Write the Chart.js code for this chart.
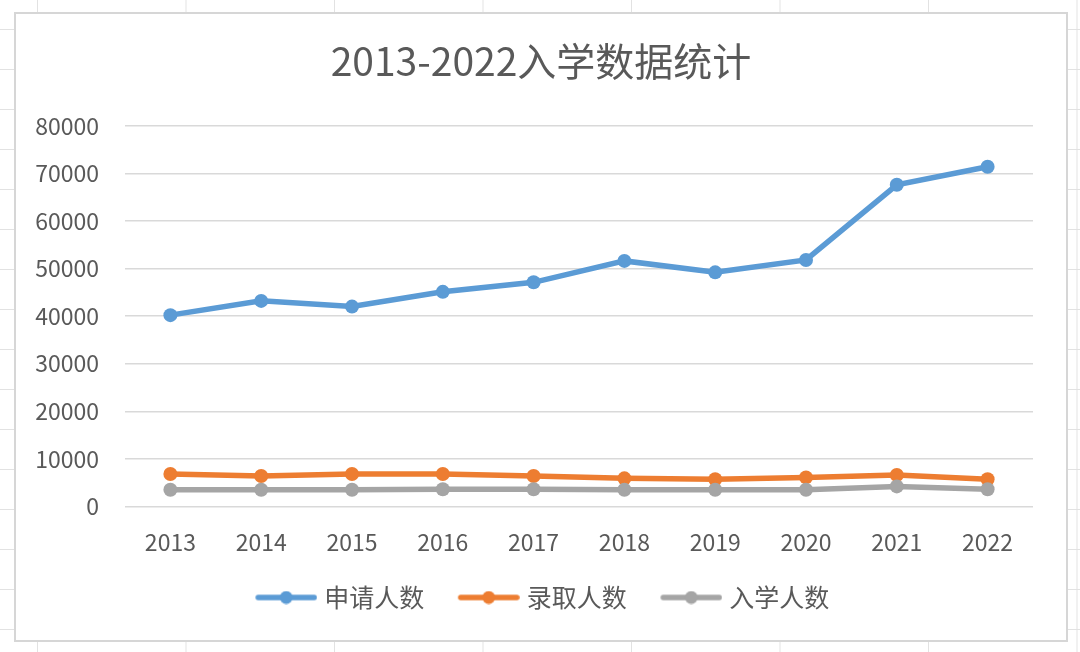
<!DOCTYPE html>
<html>
<head>
<meta charset="utf-8">
<script src="https://cdn.jsdelivr.net/npm/chart.js@4/dist/chart.umd.min.js"></script>
<style>
  html, body {
    margin: 0;
    padding: 0;
  }
  body {
    width: 1080px;
    height: 652px;
    overflow: hidden;
    background-color: #fff;
    /* spreadsheet cells behind the chart */
    background-image:
      linear-gradient(to right, #e2e2e2 1px, transparent 1px),
      linear-gradient(to bottom, #e2e2e2 1px, transparent 1px);
    background-size: 148.5px 40px;
    background-position: 37px 29px;
  }
  #box {
    position: absolute;
    left: 14px;
    top: 12px;
    width: 1054px;
    height: 630px;
    box-sizing: border-box;
    border: 2px solid #d6d6d6;
    background: #fff;
  }
</style>
</head>
<body>
<div id="box">
  <canvas id="chart" width="1050" height="626"></canvas>
</div>
<script>
const years = ['2013', '2014', '2015', '2016', '2017', '2018', '2019', '2020', '2021', '2022'];
const seriesNames = ['申请人数', '录取人数', '入学人数'];
const applied = [40200, 43200, 42000, 45100, 47100, 51600, 49200, 51800, 67600, 71400];
const admitted = [6800, 6400, 6800, 6800, 6400, 5900, 5700, 6100, 6600, 5700];
const enrolled = [3500, 3500, 3500, 3600, 3600, 3500, 3500, 3500, 4200, 3600];
const colors = ['#5B9BD5', '#ED7D31', '#A5A5A5'];

const FONT = '"Noto Sans CJK SC", "Noto Sans", sans-serif';
const TEXT = '#595959';

// legend sample: line + dot at the right end of an image a bit wider than
// the legend box, so the spacing around each entry comes out like Excel's
const MARK_W = 62;
const IMG_W = 70;
function legendMark(color) {
    const c = document.createElement('canvas');
    c.width = IMG_W;
    c.height = 14;
    const ctx = c.getContext('2d');
    const x0 = IMG_W - MARK_W;
    ctx.strokeStyle = color;
    ctx.lineWidth = 5.5;
    ctx.lineCap = 'round';
    ctx.beginPath();
    ctx.moveTo(x0 + 3, 7);
    ctx.lineTo(IMG_W - 3, 7);
    ctx.stroke();
    ctx.fillStyle = color;
    ctx.beginPath();
    ctx.arc(x0 + MARK_W / 2, 7, 6.5, 0, Math.PI * 2);
    ctx.fill();
    return c;
}
const marks = colors.map(legendMark);

const allSeries = [applied, admitted, enrolled];
const datasets = allSeries.map((values, i) => ({
    label: seriesNames[i],
    data: values,
    yAxisID: 'y',
    borderColor: colors[i],
    backgroundColor: colors[i],
    borderWidth: 5.5,
    pointRadius: 7,
    pointHoverRadius: 7,
    pointBorderWidth: 0,
    tension: 0,
    order: 3 - i // later series painted on top, as in Excel
}));

const config = {
    type: 'line',
    data: {
        labels: years,
        datasets: datasets
    },
    options: {
        responsive: false,
        animation: false,
        layout: {
            padding: { left: 0, right: 0, top: 0, bottom: 20 }
        },
        scales: {
            x: {
                offset: true,
                grid: { display: false, drawTicks: false },
                border: { display: false },
                ticks: {
                    padding: 22,
                    color: TEXT,
                    font: { family: FONT, size: 23 }
                },
                afterFit: function(scale) {
                    scale.height = scale.height - 24;
                }
            },
            y: {
                min: 0,
                max: 80000,
                ticks: {
                    stepSize: 10000,
                    padding: 26,
                    color: TEXT,
                    font: { family: FONT, size: 23 },
                    callback: function(value) { return String(value); }
                },
                grid: {
                    color: '#d9d9d9',
                    lineWidth: 1.5,
                    drawTicks: false
                },
                border: { display: false },
                afterFit: function(scale) {
                    scale.width = 109;
                }
            },
            // empty right margin, keeps title and legend centred on the whole box
            yRight: {
                position: 'right',
                display: true,
                grid: { display: false, drawTicks: false },
                border: { display: false },
                ticks: { display: false },
                afterFit: function(scale) {
                    scale.width = 33;
                }
            }
        },
        plugins: {
            title: {
                display: true,
                text: '2013-2022入学数据统计',
                color: TEXT,
                font: { family: FONT, size: 39, weight: 'normal' },
                padding: { top: 24, bottom: 41 }
            },
            legend: {
                position: 'bottom',
                labels: {
                    usePointStyle: true,
                    pointStyleWidth: 59,
                    padding: 31,
                    color: TEXT,
                    font: { family: FONT, size: 25 },
                    generateLabels: function(chart) {
                        return seriesNames.map((name, i) => ({
                            text: name,
                            fontColor: TEXT,
                            pointStyle: marks[i],
                            fillStyle: colors[i],
                            strokeStyle: colors[i],
                            lineWidth: 0,
                            hidden: false,
                            datasetIndex: i
                        }));
                    }
                }
            },
            tooltip: { enabled: false }
        }
    }
};

const chart = new Chart(document.getElementById('chart'), config);
</script>
</body>
</html>
